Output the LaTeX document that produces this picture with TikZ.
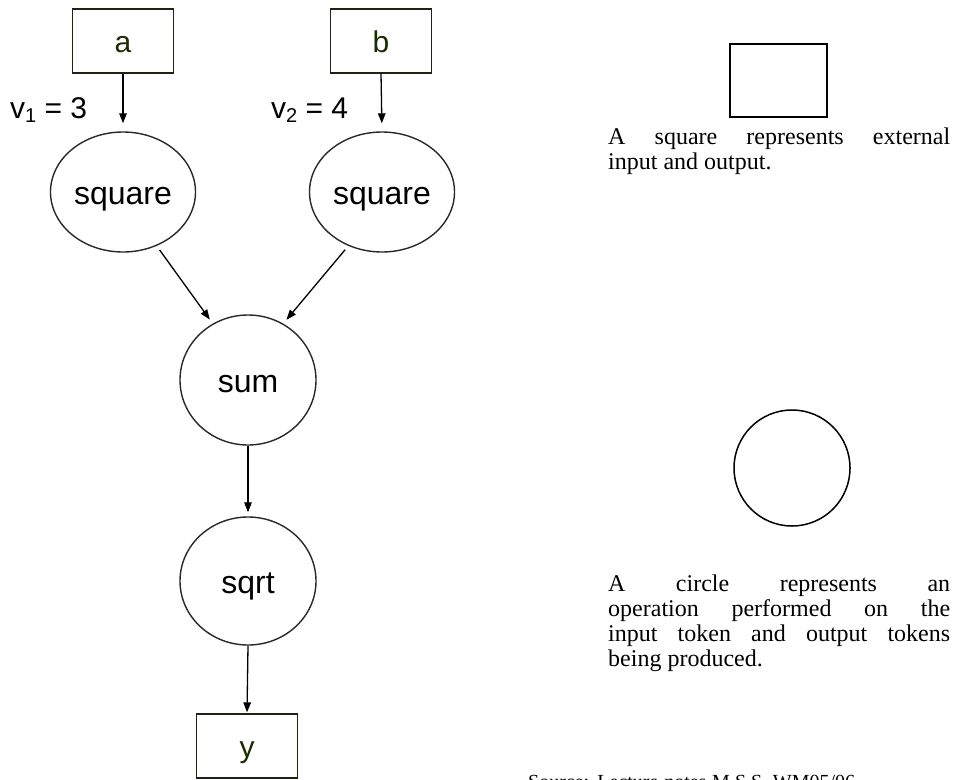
\documentclass[tikz,border=0pt]{standalone}
\usepackage{fontspec}
\setmainfont{Liberation Serif}
\setsansfont{Liberation Sans}
\usetikzlibrary{shapes.geometric,arrows.meta}
\definecolor{gdark}{RGB}{25,45,0}
\definecolor{boxedge}{RGB}{30,36,20}
\definecolor{opedge}{RGB}{40,40,40}
\tikzset{
  inbox/.style={draw=boxedge, line width=1.3pt, minimum width=101pt, minimum height=64pt,
    inner sep=0pt, text=gdark, text height=22pt, text depth=0pt,
    font=\sffamily\fontsize{30}{32}\selectfont},
  opnode/.style={ellipse, draw=opedge, line width=1.4pt, inner sep=0pt,
    text height=24pt, text depth=0pt,
    font=\sffamily\fontsize{32}{34}\selectfont},
  arr/.style={-{Triangle[length=10pt,width=7.5pt]}, line width=1.3pt},
  vlabel/.style={anchor=base west, inner sep=0pt, font=\sffamily\fontsize{30}{32}\selectfont},
  legtext/.style={anchor=north west, inner sep=0pt, align=left,
    font=\fontsize{24}{25}\selectfont},
}
\begin{document}
\begin{tikzpicture}[x=1pt,y=-1pt]
\useasboundingbox (0,0) rectangle (955,779);
\clip (0,0) rectangle (955,779);
% graph
\node[inbox] (a) at (123,41) {a};
\node[inbox] (b) at (381,41) {b};
\node[opnode, minimum width=145pt, minimum height=120pt] (sq1) at (123,192) {square};
\node[opnode, minimum width=145pt, minimum height=120pt] (sq2) at (382,192) {square};
\node[opnode, minimum width=136pt, minimum height=130pt] (sum) at (248,380) {sum};
\node[opnode, minimum width=136pt, minimum height=128pt] (sqrt) at (248,581) {sqrt};
\node[inbox] (y) at (247,746) {y};
\node[vlabel] (v1) at (10,118) {v\raisebox{-0.3ex}{\fontsize{20}{20}\selectfont 1} = 3};
\node[vlabel] (v2) at (271,118) {v\raisebox{-0.3ex}{\fontsize{20}{20}\selectfont 2} = 4};
\draw[arr, shorten >=8pt] (a.south) -- (sq1.north);
\draw[arr, shorten >=8pt] (b.south) -- (sq2.north);
\draw[arr, shorten <=5pt, shorten >=5pt] (sq1.-58) -- (sum.122);
\draw[arr, shorten <=5pt, shorten >=5pt] (sq2.-122) -- (sum.58);
\draw[arr, shorten >=4pt] (sum.south) -- (sqrt.north);
\draw[arr, shorten >=1pt] (sqrt.south) -- (y.north);
% legend
\node[draw=black, line width=1.5pt, minimum width=97pt, minimum height=73pt, inner sep=0pt] (legbox) at (778.5,80.5) {};
\node[legtext] (legsq) at (608,128) {\makebox[342pt][s]{A square represents external}\\input and output.};
\node[circle, draw=black, line width=1.5pt, minimum size=116pt, inner sep=0pt] (legcirc) at (792,468) {};
\node[legtext] (legci) at (608,575) {\makebox[342pt][s]{A circle represents an}\\\makebox[342pt][s]{operation performed on the}\\\makebox[342pt][s]{input token and output tokens}\\being produced.};
\node[anchor=base west, inner sep=0pt, font=\fontsize{20}{20}\selectfont] (src) at (528,788) {\makebox[327pt][s]{Source: Lecture notes M.S.S. WM05/06}};
\end{tikzpicture}
\end{document}
